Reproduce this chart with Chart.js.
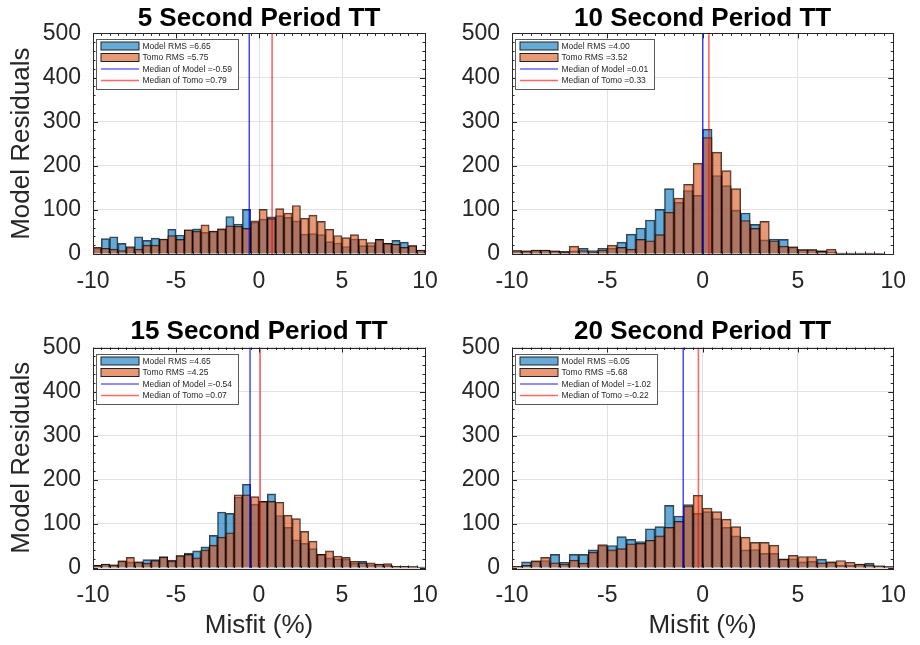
<!DOCTYPE html>
<html>
<head>
<meta charset="utf-8">
<script src="https://cdn.jsdelivr.net/npm/chart.js@4.4.1/dist/chart.umd.min.js"></script>
<style>
  html, body { margin: 0; padding: 0; background: #fff; }
  body { width: 920px; height: 645px; position: relative; overflow: hidden; }
  .panel { position: absolute; }
</style>
</head>
<body>
<div class="panel" style="left:0;top:0;width:460px;height:300px"><canvas id="p5"></canvas></div>
<div class="panel" style="left:440px;top:0;width:480px;height:300px"><canvas id="p10"></canvas></div>
<div class="panel" style="left:0;top:300px;width:460px;height:345px"><canvas id="p15"></canvas></div>
<div class="panel" style="left:440px;top:300px;width:480px;height:345px"><canvas id="p20"></canvas></div>
<script>
// bin centres of the 0.5 % wide histogram bins
const binCenters = [-9.75, -9.25, -8.75, -8.25, -7.75, -7.25, -6.75, -6.25, -5.75, -5.25,
  -4.75, -4.25, -3.75, -3.25, -2.75, -2.25, -1.75, -1.25, -0.75, -0.25,
  0.25, 0.75, 1.25, 1.75, 2.25, 2.75, 3.25, 3.75, 4.25, 4.75,
  5.25, 5.75, 6.25, 6.75, 7.25, 7.75, 8.25, 8.75, 9.25, 9.75];

const titles = ['5 Second Period TT', '10 Second Period TT', '15 Second Period TT', '20 Second Period TT'];
const rmsModel = [6.65, 4.00, 4.65, 6.05];
const rmsTomo = [5.75, 3.52, 4.25, 5.68];
const medianModel = [-0.59, 0.01, -0.54, -1.02];
const medianTomo = [0.79, 0.33, 0.07, -0.22];

const model5 = [14, 35, 39, 24, 15, 39, 31, 36, 34, 56, 43, 55, 57, 49, 52, 57, 85, 68, 101, 72,
  79, 84, 87, 83, 75, 45, 46, 44, 28, 25, 17, 34, 19, 19, 33, 24, 31, 27, 19, 9];
const tomo5 = [15, 13, 11, 8, 17, 11, 20, 20, 34, 42, 33, 55, 52, 66, 52, 57, 64, 63, 58, 75,
  101, 80, 103, 93, 110, 81, 88, 74, 56, 42, 37, 44, 34, 26, 33, 24, 22, 15, 19, 9];

const model10 = [8, 7, 9, 9, 7, 6, 7, 13, 8, 13, 13, 27, 45, 59, 77, 101, 148, 117, 144, 133,
  283, 178, 155, 99, 93, 67, 32, 34, 33, 16, 10, 10, 8, 5, 2, 2, 2, 2, 1, 0];
const tomo10 = [8, 7, 9, 9, 7, 4, 18, 8, 5, 9, 20, 15, 11, 33, 30, 44, 95, 127, 158, 206,
  264, 231, 189, 148, 76, 58, 74, 30, 18, 16, 10, 10, 6, 11, 2, 2, 2, 2, 1, 0];

const model15 = [6, 9, 7, 16, 14, 14, 19, 19, 26, 18, 28, 34, 39, 48, 74, 127, 124, 161, 190, 145,
  151, 168, 119, 92, 64, 56, 44, 31, 23, 21, 20, 11, 15, 8, 9, 6, 4, 4, 3, 2];
const tomo15 = [6, 9, 7, 16, 24, 14, 11, 17, 25, 16, 28, 31, 23, 41, 52, 70, 80, 166, 166, 162,
  151, 151, 149, 120, 112, 83, 61, 31, 39, 27, 24, 15, 12, 12, 9, 10, 4, 4, 3, 2];

const model20 = [4, 14, 16, 17, 31, 13, 31, 31, 41, 51, 51, 71, 65, 60, 89, 94, 142, 118, 144, 124,
  128, 112, 92, 73, 41, 42, 33, 33, 21, 21, 14, 15, 20, 14, 6, 6, 9, 11, 5, 3];
const tomo20 = [4, 6, 16, 24, 12, 9, 18, 11, 36, 53, 41, 44, 55, 56, 63, 73, 92, 106, 141, 165,
  136, 128, 111, 94, 70, 58, 58, 52, 20, 29, 26, 26, 12, 14, 17, 13, 9, 7, 5, 3];

const FONT = '"Liberation Sans", Arial, Helvetica, sans-serif';
Chart.defaults.font.family = FONT;
const AXIS = '#262626';

// box, inward ticks and the small legend, MATLAB style
const axesBox = {
  id: 'axesBox',
  afterDraw(chart) {
    const ctx = chart.ctx, a = chart.chartArea;
    const xs = chart.scales.x, ys = chart.scales.y;
    ctx.save();
    ctx.strokeStyle = AXIS;
    ctx.lineWidth = 1;
    ctx.beginPath();
    for (let v = -10; v <= 10; v += 0.5) {
      const px = Math.round(xs.getPixelForValue(v)) + 0.5;
      const len = v % 5 === 0 ? 5 : 2.5;
      ctx.moveTo(px, a.bottom); ctx.lineTo(px, a.bottom - len);
      ctx.moveTo(px, a.top); ctx.lineTo(px, a.top + len);
    }
    for (let v = 0; v <= 500; v += 20) {
      const py = Math.round(ys.getPixelForValue(v)) + 0.5;
      const len = v % 100 === 0 ? 5 : 2.5;
      ctx.moveTo(a.left, py); ctx.lineTo(a.left + len, py);
      ctx.moveTo(a.right, py); ctx.lineTo(a.right - len, py);
    }
    ctx.stroke();
    ctx.strokeRect(Math.round(a.left) + 0.5, Math.round(a.top) + 0.5,
      Math.round(a.right - a.left), Math.round(a.bottom - a.top));

    // legend
    const items = chart.data.datasets;
    ctx.font = '8.5px ' + FONT;
    const tw = Math.max(...items.map(d => ctx.measureText(d.label).width));
    const x0 = Math.round(a.left) + 3.5, y0 = Math.round(a.top) + 6.5;
    const w = Math.round(46 + tw + 6), h = 50;
    ctx.fillStyle = '#fff';
    ctx.fillRect(x0, y0, w, h);
    ctx.strokeStyle = '#5a5a5a';
    ctx.strokeRect(x0, y0, w, h);
    items.forEach((d, i) => {
      const cy = y0 + 6.5 + i * 11.5;
      if (d.type === 'line') {
        ctx.strokeStyle = d.borderColor;
        ctx.lineWidth = d.borderWidth;
        ctx.beginPath();
        ctx.moveTo(x0 + 4.5, cy); ctx.lineTo(x0 + 42.5, cy);
        ctx.stroke();
      } else {
        ctx.fillStyle = d.backgroundColor;
        ctx.fillRect(x0 + 4.5, cy - 4, 38, 8);
        ctx.strokeStyle = '#222';
        ctx.lineWidth = 1;
        ctx.strokeRect(x0 + 4.5, cy - 4, 38, 8);
      }
      ctx.fillStyle = AXIS;
      ctx.textBaseline = 'middle';
      ctx.textAlign = 'left';
      ctx.fillText(d.label, x0 + 46, cy + 0.5);
    });
    ctx.restore();
  }
};

function makePanel(id, k, model, tomo, opt) {
  const pts = arr => arr.map((v, i) => ({ x: binCenters[i], y: v }));
  new Chart(document.getElementById(id), {
    type: 'bar',
    data: {
      datasets: [
        {
          label: 'Model RMS =' + rmsModel[k].toFixed(2),
          data: pts(model),
          backgroundColor: 'rgba(0,114,189,0.6)',
          borderColor: 'rgba(0,0,0,0.75)',
          borderWidth: 1,
          barPercentage: 1, categoryPercentage: 1, grouped: false,
          order: 3
        },
        {
          label: 'Tomo RMS =' + rmsTomo[k].toFixed(2),
          data: pts(tomo),
          backgroundColor: 'rgba(217,83,25,0.6)',
          borderColor: 'rgba(0,0,0,0.75)',
          borderWidth: 1,
          barPercentage: 1, categoryPercentage: 1, grouped: false,
          order: 2
        },
        {
          type: 'line',
          label: 'Median of Model =' + medianModel[k].toFixed(2),
          data: [{ x: medianModel[k], y: 0 }, { x: medianModel[k], y: 500 }],
          borderColor: 'rgba(0,0,255,0.9)',
          borderWidth: 1.2,
          pointRadius: 0,
          order: 1
        },
        {
          type: 'line',
          label: 'Median of Tomo =' + medianTomo[k].toFixed(2),
          data: [{ x: medianTomo[k], y: 0 }, { x: medianTomo[k], y: 500 }],
          borderColor: 'rgba(255,0,0,0.6)',
          borderWidth: 1.6,
          pointRadius: 0,
          order: 0
        }
      ]
    },
    options: {
      responsive: true,
      maintainAspectRatio: false,
      animation: false,
      layout: { padding: { left: 0, right: opt.right, top: 0, bottom: 0 } },
      plugins: {
        legend: { display: false },
        tooltip: { enabled: false },
        title: {
          display: true,
          text: titles[k],
          fullSize: false,
          color: '#000',
          font: { size: 26, weight: 'bold', lineHeight: 1 },
          padding: { top: opt.titleTop, bottom: opt.titleBottom }
        }
      },
      scales: {
        x: {
          type: 'linear',
          min: -10, max: 10,
          offset: false,
          grid: { offset: false, color: '#e2e2e2', drawTicks: false },
          border: { display: false },
          ticks: { stepSize: 5, padding: 14, color: AXIS, font: { size: 23 }, maxRotation: 0, autoSkip: false },
          title: { display: opt.xTitle, text: 'Misfit (%)', color: AXIS, font: { size: 26 }, padding: { top: 0, bottom: 3.5 } },
          afterFit: s => { s.height = opt.xH; }
        },
        y: {
          min: 0, max: 500,
          grid: { color: '#e2e2e2', drawTicks: false },
          border: { display: false },
          ticks: { stepSize: 100, padding: 12, color: AXIS, font: { size: 23 } },
          title: { display: opt.yTitle, text: 'Model Residuals', color: AXIS, font: { size: 26 }, padding: { top: 6.4, bottom: 0 } },
          afterFit: s => { s.width = opt.yW; }
        }
      }
    },
    plugins: [axesBox]
  });
}

makePanel('p5', 0, model5, tomo5, { right: 35, yW: 93, xH: 46, titleTop: 5.8, titleBottom: 1.6, yTitle: true, xTitle: false });
makePanel('p10', 1, model10, tomo10, { right: 20, yW: 72, xH: 46, titleTop: 5.8, titleBottom: 1.6, yTitle: false, xTitle: false });
makePanel('p15', 2, model15, tomo15, { right: 35, yW: 93, xH: 77, titleTop: 19, titleBottom: 2.5, yTitle: true, xTitle: true });
makePanel('p20', 3, model20, tomo20, { right: 20, yW: 72, xH: 77, titleTop: 19, titleBottom: 2.5, yTitle: false, xTitle: true });
</script>
</body>
</html>
